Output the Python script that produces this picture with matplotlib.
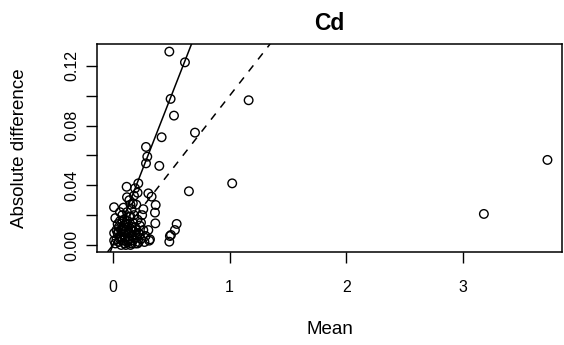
import matplotlib
matplotlib.use("Agg")
import matplotlib.pyplot as plt
import numpy as np

plt.rcParams['font.family'] = ['Liberation Sans', 'DejaVu Sans']

# points (mean, absolute difference)
mean_vals = [
    0.483, 0.617, 1.163, 0.494, 0.523, 0.417, 0.703, 0.283, 0.294, 0.283,
    0.397, 1.022, 0.651, 0.217, 0.117, 0.189, 0.303, 0.331, 0.366, 0.360,
    0.009, 0.363, 0.546, 0.531, 0.488, 0.483, 0.311, 3.725, 3.180, 0.211,
    0.303, 0.497, 0.317,
    0.02, 0.03, 0.04, 0.05, 0.05, 0.06, 0.06, 0.07, 0.07, 0.08,
    0.08, 0.09, 0.09, 0.10, 0.10, 0.11, 0.11, 0.12, 0.12, 0.13,
    0.13, 0.14, 0.14, 0.15, 0.15, 0.16, 0.16, 0.17, 0.17, 0.18,
    0.18, 0.19, 0.19, 0.20, 0.20, 0.21, 0.22, 0.22, 0.23, 0.24,
    0.25, 0.26, 0.27, 0.28, 0.04, 0.03, 0.02, 0.09, 0.14, 0.17,
    0.12, 0.24, 0.26, 0.08, 0.11, 0.06, 0.18, 0.15, 0.01, 0.01,
    0.07, 0.10, 0.13, 0.16, 0.19, 0.12, 0.15, 0.09, 0.21, 0.05,
    0.11, 0.14, 0.17, 0.08, 0.20, 0.23, 0.06, 0.16,
]
abs_diff = [
    0.1296, 0.1224, 0.0970, 0.0979, 0.0867, 0.0722, 0.0753, 0.0657, 0.0592, 0.0547,
    0.0530, 0.0413, 0.0360, 0.0413, 0.0390, 0.0380, 0.0346, 0.0324, 0.0268, 0.0217,
    0.0253, 0.0145, 0.0141, 0.0100, 0.0060, 0.0022, 0.0029, 0.0570, 0.0208, 0.0350,
    0.0100, 0.0067, 0.0038,
    0.001, 0.004, 0.008, 0.002, 0.012, 0.006, 0.016, 0.000, 0.010, 0.003,
    0.020, 0.007, 0.013, 0.001, 0.017, 0.005, 0.010, 0.022, 0.002, 0.008,
    0.014, 0.004, 0.019, 0.000, 0.011, 0.006, 0.024, 0.003, 0.015, 0.009,
    0.020, 0.001, 0.012, 0.005, 0.027, 0.017, 0.008, 0.002, 0.013, 0.004,
    0.020, 0.010, 0.002, 0.006, 0.014, 0.010, 0.018, 0.025, 0.030, 0.028,
    0.032, 0.015, 0.024, 0.016, 0.000, 0.022, 0.033, 0.027, 0.008, 0.003,
    0.005, 0.009, 0.003, 0.012, 0.007, 0.016, 0.019, 0.011, 0.001, 0.009,
    0.014, 0.008, 0.006, 0.011, 0.010, 0.007, 0.004, 0.001,
]

solid_slope = 0.2
dashed_slope = 0.1

fig = plt.figure(figsize=(5.64, 3.45), dpi=100)
ax = fig.add_axes([0.172, 0.2696, 0.8245, 0.6029])

ax.scatter(mean_vals, abs_diff, s=38, facecolors='none', edgecolors='black', linewidths=1.0, zorder=3)
ax.axline((0, 0), slope=solid_slope, color='black', lw=1.1)
ax.axline((0, 0), slope=dashed_slope, color='black', lw=1.1, ls=(0, (5, 5)))

ax.set_xlim(-0.137, 3.85)
ax.set_ylim(-0.0047, 0.1347)
ax.set_xticks([0, 1, 2, 3])
ax.set_yticks([0.00, 0.02, 0.04, 0.06, 0.08, 0.10, 0.12])
ax.set_yticklabels(['0.00', '', '0.04', '', '0.08', '', '0.12'])
ax.tick_params(axis='both', direction='out', length=8, width=1, labelsize=11.5)
ax.tick_params(axis='x', pad=12)
ax.tick_params(axis='y', pad=5)
for lab in ax.get_yticklabels():
    lab.set_rotation(90)
    lab.set_va('center')

for sp in ax.spines.values():
    sp.set_linewidth(1.1)

ax.set_title('Cd', fontsize=16.5, fontweight='bold', pad=10)
ax.set_xlabel('Mean', fontsize=13.5)
ax.xaxis.set_label_coords(0.5, -0.33)
ax.set_ylabel('Absolute difference', fontsize=13.5)
ax.yaxis.set_label_coords(-0.148, 0.5)

fig.savefig('out.png', dpi=100)
